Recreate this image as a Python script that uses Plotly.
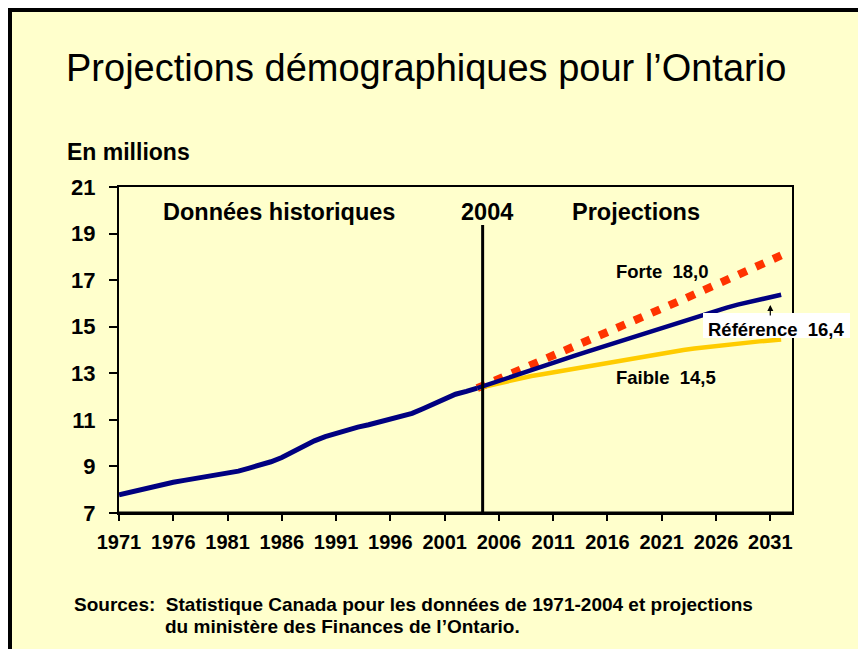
import plotly.graph_objects as go

# données historiques (millions)
HIST_YEARS = list(range(1971, 2005))
HIST_POP = [7.78, 7.89, 8.02, 8.14, 8.26, 8.32, 8.40, 8.48, 8.56, 8.63,
            8.69, 8.80, 8.93, 9.05, 9.20, 9.38, 9.62, 9.88, 10.10, 10.28,
            10.43, 10.57, 10.69, 10.79, 10.92, 11.06, 11.17, 11.28, 11.48, 11.70,
            11.92, 12.10, 12.22, 12.36]

# projections 2004-2032
PROJ_YEARS = list(range(2004, 2033))
FORTE = [12.36, 12.56, 12.75, 12.94, 13.12, 13.31, 13.50, 13.69, 13.89, 14.09,
         14.29, 14.50, 14.70, 14.91, 15.12, 15.33, 15.55, 15.76, 15.97, 16.18,
         16.39, 16.60, 16.81, 17.02, 17.23, 17.44, 17.65, 17.86, 18.06]
REFERENCE = [12.36, 12.52, 12.68, 12.84, 13.00, 13.15, 13.31, 13.46, 13.61, 13.76,
             13.91, 14.06, 14.20, 14.35, 14.50, 14.65, 14.80, 14.95, 15.10, 15.24,
             15.38, 15.56, 15.70, 15.82, 15.95, 16.06, 16.17, 16.27, 16.37]
FAIBLE = [12.36, 12.47, 12.58, 12.69, 12.79, 12.88, 12.96, 13.04, 13.14, 13.22,
          13.30, 13.39, 13.48, 13.56, 13.64, 13.72, 13.79, 13.86, 13.93, 14.00,
          14.06, 14.12, 14.18, 14.23, 14.28, 14.33, 14.37, 14.41, 14.45]

X_TICKS = list(range(1971, 2032, 5))
Y_TICKS = list(range(7, 22, 2))
DIVIDER_YEAR = 2004.5

W, H = 858, 649
L, R, T, B = 119, 66, 187, 136
PW, PH = W - L - R, H - T - B

NAVY = '#000080'
RED = '#FF3300'
GOLD = '#FFCC00'
BG = '#FFFFCC'
SANS = 'Liberation Sans, Arial, sans-serif'


def px(x):
    return (x - L) / PW


def py(y):
    return (H - B - y) / PH


fig = go.Figure()
fig.add_trace(go.Scatter(x=PROJ_YEARS, y=FORTE, mode='lines',
                         line=dict(color=RED, width=8, dash='9px,10px')))
fig.add_trace(go.Scatter(x=PROJ_YEARS, y=FAIBLE, mode='lines',
                         line=dict(color=GOLD, width=4.5)))
fig.add_trace(go.Scatter(x=PROJ_YEARS, y=REFERENCE, mode='lines',
                         line=dict(color=NAVY, width=4.5)))
fig.add_trace(go.Scatter(x=HIST_YEARS, y=HIST_POP, mode='lines',
                         line=dict(color=NAVY, width=5)))

# cadre jaune
fig.add_shape(type='rect', xref='paper', yref='paper',
              x0=px(10), x1=px(900), y0=py(10), y1=py(700),
              fillcolor=BG, line=dict(color='black', width=4), layer='below')
# séparation historique / projections
fig.add_shape(type='line', x0=DIVIDER_YEAR, x1=DIVIDER_YEAR, y0=7, y1=19.37,
              line=dict(color='black', width=3))
# axe du bas plus épais
fig.add_shape(type='line', xref='paper', yref='paper', x0=0, x1=1, y0=0, y1=0,
              line=dict(color='black', width=3))
# fond blanc de l'étiquette Référence
fig.add_shape(type='rect', xref='paper', yref='paper',
              x0=px(703), x1=px(850), y0=py(338), y1=py(313),
              fillcolor='white', line=dict(width=0), layer='above')

big = dict(family=SANS, size=23.5, color='black', weight='bold')
mid = dict(family=SANS, size=18.5, color='black', weight='bold')
src = dict(family=SANS, size=19, color='black', weight='bold')

annots = [
    dict(text="Projections démographiques pour l’Ontario", x=px(64), y=py(68),
         xanchor='left', font=dict(family=SANS, size=38, color='black')),
    dict(text='En millions', x=px(65), y=py(152), xanchor='left',
         font=dict(family=SANS, size=23, color='black', weight='bold')),
    dict(text='Données historiques', x=px(279), y=py(212), xanchor='center', font=big),
    dict(text='2004', x=px(487), y=py(212), xanchor='center', font=big),
    dict(text='Projections', x=px(636), y=py(212), xanchor='center', font=big),
    dict(text='Forte  18,0', x=px(662), y=py(271), xanchor='center', font=mid),
    dict(text='Faible  14,5', x=px(666), y=py(377), xanchor='center', font=mid),
    dict(text='Référence  16,4', x=px(776), y=py(329.5), xanchor='center', font=mid),
    dict(text='Sources:  Statistique Canada pour les données de 1971-2004 et projections',
         x=px(72), y=py(604), xanchor='left', font=src),
    dict(text='du ministère des Finances de l’Ontario.',
         x=px(163), y=py(626), xanchor='left', font=src),
]
for a in annots:
    fig.add_annotation(xref='paper', yref='paper', showarrow=False, yanchor='middle', **a)

# flèche vers la courbe de référence
fig.add_annotation(x=2031, y=15.93, text='', showarrow=True, ax=0, ay=12,
                   axref='pixel', ayref='pixel', arrowhead=2, arrowsize=1,
                   arrowwidth=1.2, arrowcolor='black', standoff=0)

fig.update_xaxes(range=[1971, 2033], tickvals=X_TICKS, ticks='outside',
                 ticklen=6, tickwidth=2, tickcolor='black',
                 showline=True, linecolor='black', linewidth=2, mirror=True,
                 showgrid=False, zeroline=False, ticklabelstandoff=4,
                 tickfont=dict(family=SANS, size=20, color='black', weight='bold'))
fig.update_yaxes(range=[7, 21], tickvals=Y_TICKS, ticks='outside',
                 ticklen=8, tickwidth=2, tickcolor='black',
                 showline=True, linecolor='black', linewidth=2, mirror=True,
                 showgrid=False, zeroline=False, ticklabelstandoff=9,
                 tickfont=dict(family=SANS, size=22, color='black', weight='bold'))

fig.update_layout(width=W, height=H, margin=dict(l=L, r=R, t=T, b=B),
                  paper_bgcolor='white', plot_bgcolor='rgba(0,0,0,0)',
                  showlegend=False)

# pas de marge autour du graphique dans la page
fig.write_html("out.html", config={'displayModeBar': False},
               post_script="document.body.style.margin='0';document.body.style.overflow='hidden';")
